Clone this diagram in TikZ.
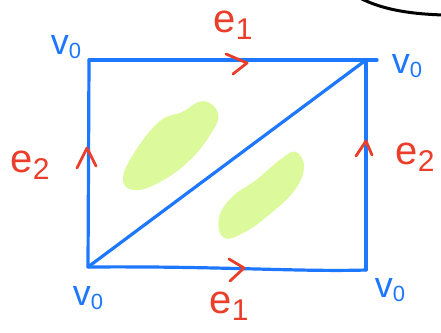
\documentclass[tikz,border=0pt]{standalone}
\usepackage{fontspec}
\setmainfont{Liberation Sans}
\usepackage{tikz}
\usetikzlibrary{calc,arrows.meta,positioning}
\usepackage{xcolor}
\definecolor{edgeblue}{HTML}{1E78FF}
\definecolor{labelred}{HTML}{EA3D2A}
\definecolor{fillgreen}{HTML}{DCFA9B}
\newcommand{\vlab}{v\raisebox{-4pt}{\fontsize{22}{22}\selectfont 0}}
\newcommand{\elab}[1]{e\raisebox{-7pt}{\fontsize{30}{30}\selectfont #1}}
\tikzset{
    edge/.style={
        line width=3.2pt,
        color=edgeblue,
        line cap=round,
        line join=round
    },
    chevron/.style={
        line width=2.8pt,
        color=labelred,
        line cap=round,
        line join=round
    },
    blob/.style={
        fill=fillgreen
    },
    vlabel/.style={
        color=edgeblue,
        font=\fontsize{36}{36}\selectfont,
        inner sep=0pt
    },
    elabel/.style={
        color=labelred,
        font=\fontsize{40}{40}\selectfont,
        inner sep=0pt
    }
}

\begin{document}
\begin{tikzpicture}[x=1pt,y=-1pt]

    \useasboundingbox (0,0) rectangle (441,332);

    % Corners
    \coordinate (tl) at (89,60);
    \coordinate (tr) at (366,60);
    \coordinate (bl) at (88,267);
    \coordinate (br) at (366,270);

    % Green blobs
    \fill[blob] plot[smooth cycle,tension=0.7] coordinates {
        (123,178) (136,150) (160,121) (182,112) (203,101)
        (218,113) (212,132) (190,160) (160,182) (134,190)};
    \fill[blob] plot[smooth cycle,tension=0.7] coordinates {
        (219,218) (232,197) (256,180) (281,159) (296,152)
        (304,168) (294,191) (270,214) (245,232) (224,238)};

    % Square
    \draw[edge,shorten >=-11pt]
        (tl) -- (tr);
    \draw[edge]
        (tr) -- (br);
    \draw[edge]
        (bl) -- (tl);
    \draw[edge]
        (bl) .. controls (220,266) and (300,272) .. (br);

    % Diagonal
    \draw[edge]
        (bl) -- (tr);

    % Chevrons
    \draw[chevron]
        (226,54) -- (247,63) -- (233,74);
    \draw[chevron]
        (229,259) -- (244,268) -- (230,281);
    \draw[chevron]
        (77,168) -- (87,148) -- (96,166);
    \draw[chevron]
        (356,156) -- (366,141) -- (372,155);

    % Black stroke
    \draw[line width=3pt,line cap=round]
        (360,-2) .. controls (385,11) and (415,14) .. (443,15);

    % Vertex labels
    \node[vlabel] (vtl) at (66,47) {\vlab};
    \node[vlabel] (vtr) at (407,66) {\vlab};
    \node[vlabel] (vbl) at (88,298) {\vlab};
    \node[vlabel] (vbr) at (390,290) {\vlab};

    % Edge labels
    \node[elabel] (etop) at (233,25) {\elab{1}};
    \node[elabel] (ebot) at (229,306) {\elab{1}};
    \node[elabel] (eleft) at (30,165) {\elab{2}};
    \node[elabel] (eright) at (415,157) {\elab{2}};

\end{tikzpicture}
\end{document}
